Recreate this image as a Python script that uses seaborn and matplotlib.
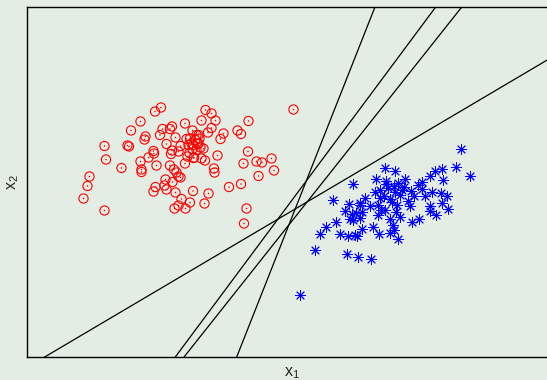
import numpy as np
import pandas as pd
import seaborn as sns
import matplotlib
matplotlib.use("Agg")
import matplotlib.pyplot as plt

# Class 1 samples (red circles)
red_x1 = [5.33, 2.68, 2.56, 3.57, 3.69, 3.77, 3.49, 3.16, 2.27, 2.08,
          2.71, 2.90, 2.86, 4.43, 4.21, 4.28, 3.93, 3.87, 3.69, 3.62,
          3.31, 3.43, 2.66, 2.37, 2.35, 2.97, 3.19, 3.26, 3.37, 3.41,
          1.55, 2.01, 2.04, 2.79, 3.07, 3.29, 3.47, 3.31, 4.42, 3.81,
          2.53, 2.54, 2.90, 3.03, 2.88, 3.25, 3.21, 1.58, 2.43, 2.27,
          3.33, 3.49, 3.56, 3.16, 2.59, 4.33, 4.59, 4.70, 4.89, 4.94,
          4.63, 1.89, 2.29, 2.29, 2.86, 2.94, 2.99, 3.03, 3.07, 3.74,
          3.75, 1.25, 1.21, 1.13, 1.55, 2.77, 2.91, 2.57, 2.53, 2.75,
          2.79, 2.97, 3.32, 3.63, 4.04, 4.28, 3.09, 3.26, 3.03, 2.95,
          3.17, 3.55, 4.39, 4.34, 3.39, 3.45, 3.43, 3.33, 3.23, 3.39,
          3.53, 3.34]
red_x2 = [4.95, 4.99, 4.91, 4.94, 4.87, 4.73, 4.73, 4.67, 4.71, 4.53,
          4.56, 4.61, 4.56, 4.72, 4.53, 4.46, 4.47, 4.36, 4.58, 4.49,
          4.53, 4.44, 4.44, 4.41, 4.35, 4.39, 4.36, 4.37, 4.34, 4.26,
          4.22, 4.23, 4.21, 4.26, 4.22, 4.27, 4.19, 4.16, 4.11, 4.03,
          4.12, 4.07, 4.13, 4.11, 4.06, 4.08, 4.01, 3.95, 3.99, 3.91,
          3.98, 3.97, 3.93, 3.87, 3.83, 3.87, 3.91, 3.89, 3.97, 3.73,
          3.62, 3.78, 3.75, 3.70, 3.83, 3.75, 3.69, 3.61, 3.59, 3.77,
          3.69, 3.61, 3.42, 3.17, 2.93, 3.55, 3.50, 3.40, 3.31, 3.43,
          3.35, 3.29, 3.32, 3.27, 3.40, 3.46, 3.16, 3.09, 3.03, 2.97,
          2.97, 3.07, 2.97, 2.67, 4.44, 4.37, 4.27, 4.24, 4.24, 4.14,
          4.17, 3.99]

# Class 2 samples (blue asterisks)
blue_x1 = [8.68, 8.86, 8.57, 8.29, 8.16, 8.05, 8.32, 7.89, 7.89, 8.09,
           8.28, 8.39, 8.29, 8.42, 8.05, 8.06, 8.18, 7.84, 7.69, 7.15,
           7.36, 6.97, 7.17, 7.55, 7.68, 7.53, 7.33, 7.06, 6.95, 7.14,
           7.26, 7.46, 7.61, 7.65, 7.39, 7.15, 7.38, 7.46, 7.26, 6.52,
           6.12, 6.43, 6.66, 6.76, 6.85, 6.36, 6.50, 6.57, 6.69, 6.66,
           6.51, 7.01, 6.18, 5.98, 5.85, 6.25, 6.41, 6.59, 6.69, 6.91,
           7.03, 7.25, 7.31, 7.33, 7.41, 5.76, 6.39, 6.62, 6.87, 5.46,
           6.56, 7.07, 7.22, 7.36, 7.06, 7.50, 7.30, 7.18, 7.42, 7.02,
           7.74, 7.82, 7.96, 6.65, 6.46]
blue_x2 = [4.15, 3.63, 3.80, 3.77, 3.73, 3.62, 3.54, 3.51, 3.37, 3.30,
           3.29, 3.23, 3.09, 2.96, 3.03, 2.92, 2.84, 2.76, 2.71, 3.78,
           3.72, 3.56, 3.53, 3.56, 3.33, 3.41, 3.43, 3.34, 3.31, 3.23,
           3.17, 3.24, 3.12, 3.02, 3.04, 2.95, 2.91, 2.81, 2.76, 3.47,
           3.14, 3.07, 3.09, 3.19, 3.03, 2.92, 2.86, 2.89, 2.91, 2.79,
           2.75, 2.84, 2.70, 2.60, 2.47, 2.46, 2.43, 2.42, 2.57, 2.60,
           2.47, 2.49, 2.65, 2.55, 2.36, 2.14, 2.07, 2.00, 1.97, 1.25,
           2.44, 2.94, 3.38, 3.30, 3.18, 3.34, 3.10, 3.46, 3.48, 3.04,
           3.22, 3.44, 3.22, 3.04, 2.77]

# Candidate separating lines: x2 = slope * x1 + intercept
line_slope = [0.591, 1.344, 1.260, 2.531]
line_intercept = [-0.209, -3.986, -3.957, -10.615]

XLIM = (0.0, 10.6)
YLIM = (0.0, 7.0)
BG = "#e4ede4"

sns.set_theme(style="white", rc={"axes.facecolor": BG, "figure.facecolor": BG})
plt.rcParams["font.family"] = ["Liberation Sans", "DejaVu Sans"]
plt.rcParams["mathtext.fontset"] = "custom"
plt.rcParams["mathtext.rm"] = "Liberation Sans"
plt.rcParams["mathtext.it"] = "Liberation Sans"
plt.rcParams["mathtext.default"] = "regular"

fig = plt.figure(figsize=(5.47, 3.80), dpi=100)
ax = fig.add_axes([27 / 547, 23 / 380, 530 / 547, 350 / 380])

# Separating lines, evaluated across the full x-range
rows = []
for i, (m, b) in enumerate(zip(line_slope, line_intercept)):
    for xv in XLIM:
        rows.append({"line": i, "x1": xv, "x2": m * xv + b})
lines_df = pd.DataFrame(rows)
sns.lineplot(data=lines_df, x="x1", y="x2", units="line", estimator=None,
             color="black", linewidth=0.9, ax=ax, legend=False)

red_df = pd.DataFrame({"x1": red_x1, "x2": red_x2})
blue_df = pd.DataFrame({"x1": blue_x1, "x2": blue_x2})

# Red: open circle with a small dot in the centre
sns.scatterplot(data=red_df, x="x1", y="x2", marker="o", s=44,
                facecolor="none", edgecolor="red", linewidth=0.8, ax=ax,
                legend=False, zorder=3)
sns.scatterplot(data=red_df, x="x1", y="x2", marker="o", s=1.2,
                color="red", edgecolor="none", linewidth=0, ax=ax,
                legend=False, zorder=3)

# Blue: eight-armed asterisk
sns.scatterplot(data=blue_df, x="x1", y="x2", marker=(8, 2, 0), s=50,
                color="blue", edgecolor="blue", linewidth=0.7, ax=ax,
                legend=False, zorder=3)

ax.set_xlim(*XLIM)
ax.set_ylim(*YLIM)
ax.set_xticks([])
ax.set_yticks([])
for sp in ax.spines.values():
    sp.set_visible(True)
    sp.set_color("black")
    sp.set_linewidth(1.0)

ax.set_xlabel("$x_1$", fontsize=11.5, labelpad=6)
ax.set_ylabel("$x_2$", fontsize=11.5, labelpad=4)

fig.savefig("out.png", dpi=100, facecolor=BG)
